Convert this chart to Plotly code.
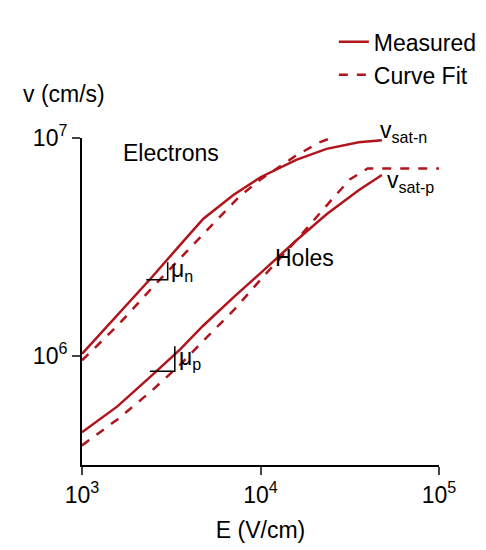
import plotly.graph_objects as go

RED = '#b0151c'

# log10(E) and log10(v)
e_meas_x = [3.0, 3.2, 3.39, 3.55, 3.68, 3.85, 4.0, 4.2, 4.37, 4.55, 4.68]
e_meas_y = [6.01, 6.19, 6.36, 6.51, 6.63, 6.74, 6.82, 6.90, 6.95, 6.98, 6.99]
e_fit_x = [3.0, 3.2, 3.39, 3.55, 3.68, 3.88, 4.0, 4.2, 4.33, 4.43, 5.0]
e_fit_y = [5.98, 6.14, 6.31, 6.45, 6.56, 6.73, 6.81, 6.92, 6.98, 7.01, 7.01]
h_meas_x = [3.0, 3.2, 3.39, 3.55, 3.68, 3.85, 4.0, 4.2, 4.37, 4.55, 4.68]
h_meas_y = [5.65, 5.77, 5.91, 6.03, 6.14, 6.27, 6.38, 6.53, 6.65, 6.76, 6.83]
h_fit_x = [3.0, 3.2, 3.39, 3.55, 3.68, 3.85, 4.0, 4.2, 4.37, 4.5, 4.6, 5.0]
h_fit_y = [5.59, 5.71, 5.84, 5.96, 6.07, 6.21, 6.35, 6.53, 6.69, 6.81, 6.86, 6.86]

tick_vals = [1e3, 1e4, 1e5]
tick_text = ['10<sup>3</sup>', '10<sup>4</sup>', '10<sup>5</sup>']

fig = go.Figure()
for xs, ys, dash, name, show in [
    (e_meas_x, e_meas_y, 'solid', 'Measured', True),
    (e_fit_x, e_fit_y, 'dash', 'Curve Fit', True),
    (h_meas_x, h_meas_y, 'solid', 'Measured', False),
    (h_fit_x, h_fit_y, 'dash', 'Curve Fit', False),
]:
    fig.add_trace(go.Scatter(
        x=[10 ** v for v in xs], y=[10 ** v for v in ys], mode='lines',
        line=dict(color=RED, width=2.5, dash=dash),
        name=name, showlegend=show, cliponaxis=False))

# slope triangles
for (x0, x1, y0, y1) in [(3.36, 3.48, 6.35, 6.43), (3.38, 3.52, 5.93, 6.045)]:
    fig.add_trace(go.Scatter(
        x=[10 ** x0, 10 ** x1, 10 ** x1], y=[10 ** y0, 10 ** y0, 10 ** y1],
        mode='lines', line=dict(color='black', width=1.5), showlegend=False))

font = dict(family='Liberation Sans, Arial', size=23, color='black')
ann = [
    (3.22, 6.93, 'Electrons'),
    (4.07, 6.45, 'Holes'),
    (3.49, 6.39, 'μ<sub>n</sub>'),
    (3.53, 5.99, 'μ<sub>p</sub>'),
    (4.70, 6.80, 'v<sub>sat-p</sub>'),
]
for x, y, t in ann:
    fig.add_annotation(x=x, y=y, xref='x', yref='y', text=t, showarrow=False,
                       xanchor='left', font=font)
fig.add_annotation(x=0.83, y=1.07, xref='paper', yref='paper', text='v<sub>sat-n</sub>',
                   showarrow=False, xanchor='left', font=font)
fig.add_annotation(x=-0.17, y=1.09, xref='paper', yref='paper', text='v (cm/s)',
                   showarrow=False, xanchor='left', yanchor='bottom', font=font)

fig.update_xaxes(type='log', range=[3, 5], tickvals=tick_vals, ticktext=tick_text,
                 showline=True, linecolor='black', linewidth=2, ticks='outside',
                 ticklen=8, tickwidth=2, showgrid=False, zeroline=False,
                 title=dict(text='E (V/cm)', font=font), tickfont=font)
fig.update_yaxes(type='log', range=[5.5, 7.0], tickvals=[1e6, 1e7],
                 ticktext=['10<sup>6</sup>', '10<sup>7</sup>'],
                 showline=True, linecolor='black', linewidth=2, ticks='outside',
                 ticklen=8, tickwidth=2, showgrid=False, zeroline=False, tickfont=font)
fig.update_layout(
    width=486, height=550, margin=dict(l=74, r=48, t=115, b=93),
    plot_bgcolor='white', paper_bgcolor='white', font=font,
    legend=dict(x=1.12, xanchor='right', y=1.36, yanchor='top',
                bgcolor='rgba(0,0,0,0)', font=font, tracegroupgap=0),
)
fig.write_html('out.html')
